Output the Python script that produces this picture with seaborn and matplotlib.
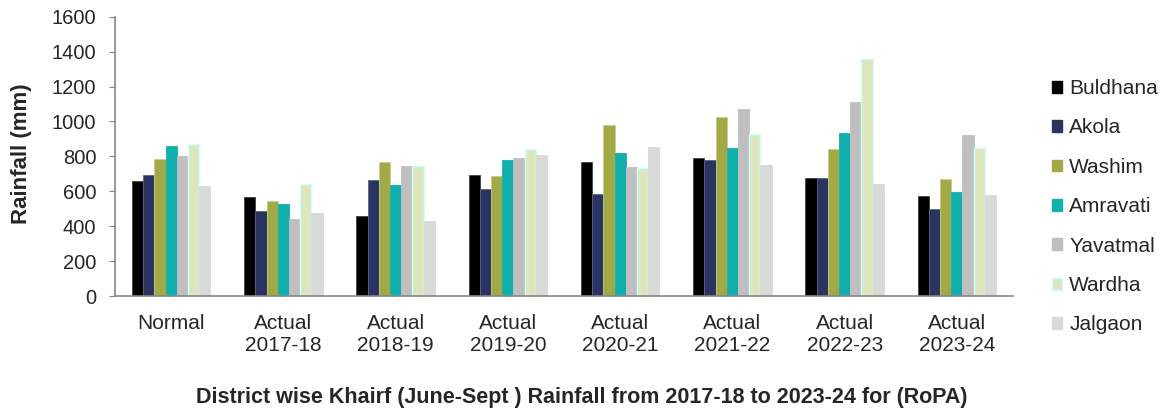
import matplotlib
matplotlib.use("Agg")
import matplotlib.pyplot as plt
import seaborn as sns
import pandas as pd
from matplotlib.patches import Patch

categories = ["Normal", "Actual\n2017-18", "Actual\n2018-19", "Actual\n2019-20",
              "Actual\n2020-21", "Actual\n2021-22", "Actual\n2022-23", "Actual\n2023-24"]
districts = ["Buldhana", "Akola", "Washim", "Amravati", "Yavatmal", "Wardha", "Jalgaon"]

buldhana = [657, 565, 458, 691, 765, 788, 674, 572]
akola = [691, 487, 662, 611, 584, 777, 674, 500]
washim = [784, 544, 765, 687, 979, 1023, 843, 668]
amravati = [859, 527, 634, 779, 817, 849, 933, 595]
yavatmal = [801, 439, 742, 790, 739, 1074, 1109, 922]
wardha = [868, 643, 742, 843, 731, 927, 1357, 847]
jalgaon = [630, 477, 429, 809, 855, 750, 643, 578]

series = [buldhana, akola, washim, amravati, yavatmal, wardha, jalgaon]
colors = ["#000000", "#2b3361", "#a2aa46", "#12afaf", "#bfbfbf", "#dde5bc", "#d9d9d9"]
edges = ["#404040", "#5a628a", "#c8cc8a", "#12afaf", "#bfbfbf", "#ccffff", "#d9d9d9"]

rows = []
for d, vals in zip(districts, series):
    for c, v in zip(categories, vals):
        rows.append({"cat": c, "district": d, "rain": v})
df = pd.DataFrame(rows)

sns.set_style("white")
plt.rcParams["font.family"] = ["Liberation Sans", "DejaVu Sans"]

W, H = 1169, 412
fig = plt.figure(figsize=(W / 100, H / 100), dpi=100)
ax = fig.add_axes([115 / W, 1 - 296 / H, (1013 - 115) / W, (296 - 16.7) / H])

sns.barplot(data=df, x="cat", y="rain", hue="district", order=categories,
            hue_order=districts, palette=colors, width=0.70, ax=ax,
            legend=False, errorbar=None, saturation=1)

for cont, ec in zip(ax.containers, edges):
    for p in cont:
        p.set_edgecolor(ec)
        p.set_linewidth(1.0 if ec == "#ccffff" else 0.6)

ax.set_ylim(0, 1600)
ax.set_xlim(-0.5, len(categories) - 0.5)
ax.set_yticks(range(0, 1601, 200))
ax.tick_params(axis="y", labelsize=14.5, length=4.5, color="#868686", direction="out", left=True, pad=9)
ax.tick_params(axis="x", labelsize=15, length=0, pad=13)
for s in ["top", "right"]:
    ax.spines[s].set_visible(False)
for s in ["left", "bottom"]:
    ax.spines[s].set_color("#868686")
    ax.spines[s].set_linewidth(1.2)

ax.set_ylabel("")
ax.set_xlabel("")
fig.text(22 / W, 1 - 154 / H, "Rainfall (mm)", rotation=90, ha="center", va="center",
         fontsize=16, fontweight="bold")
fig.text(582 / W, 1 - 397 / H,
         "District wise Khairf (June-Sept ) Rainfall from 2017-18 to 2023-24 for (RoPA)",
         ha="center", va="center", fontsize=15.5, fontweight="bold")

handles = [Patch(facecolor=c, edgecolor=(e if e == "#ccffff" else c), linewidth=1.0)
           for c, e in zip(colors, edges)]
fig.legend(handles, districts, loc="upper left", bbox_to_anchor=(1052 / W, 1 - 79 / H),
           frameon=False, fontsize=15, handlelength=0.5, handleheight=0.5,
           handletextpad=0.33, labelspacing=0.98, borderaxespad=0, borderpad=0)

fig.savefig("out.png", dpi=100)
